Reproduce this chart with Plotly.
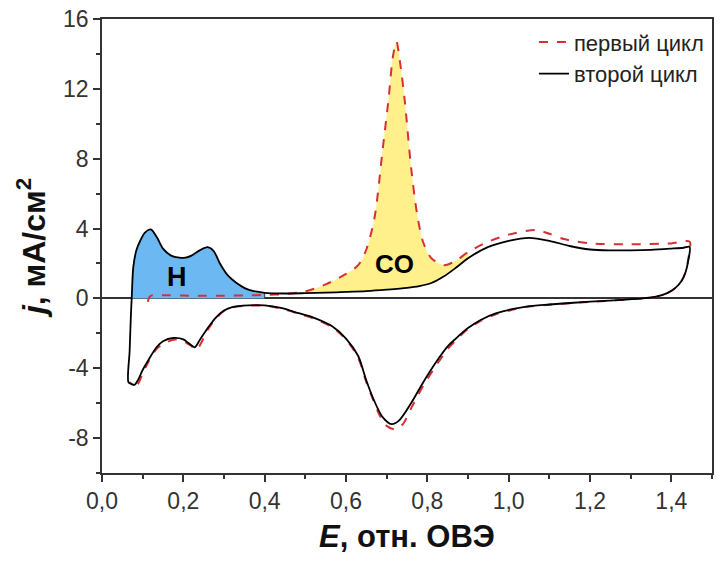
import plotly.graph_objects as go

# Cyclic voltammogram: potential E (V vs RHE) and current density j (mA/cm2)

# Second cycle, anodic sweep
c2_an_x = [0.065, 0.068, 0.071, 0.073, 0.077, 0.085, 0.094, 0.105, 0.12, 0.135,
           0.15, 0.17, 0.19, 0.205, 0.22, 0.24, 0.26, 0.275, 0.29, 0.31,
           0.33, 0.36, 0.40, 0.45, 0.50, 0.55, 0.60, 0.65, 0.70, 0.75,
           0.78, 0.81, 0.84, 0.87, 0.90, 0.95, 1.00, 1.05, 1.10, 1.15,
           1.20, 1.25, 1.30, 1.35, 1.40, 1.43, 1.445]
c2_an_y = [-4.8, -3.0, -1.0, 0.0, 1.8, 2.8, 3.3, 3.75, 3.95, 3.5,
           2.85, 2.45, 2.33, 2.33, 2.45, 2.75, 2.93, 2.7, 2.0, 1.3,
           0.9, 0.5, 0.32, 0.28, 0.30, 0.33, 0.37, 0.42, 0.50, 0.60,
           0.70, 0.88, 1.25, 1.75, 2.3, 2.95, 3.3, 3.47, 3.3, 3.0,
           2.8, 2.75, 2.75, 2.78, 2.85, 2.9, 2.95]

# Second cycle, cathodic sweep
c2_ca_x = [1.445, 1.442, 1.435, 1.425, 1.41, 1.39, 1.36, 1.33, 1.28, 1.20,
           1.10, 1.04, 0.97, 0.93, 0.90, 0.87, 0.85, 0.82, 0.79, 0.76,
           0.73, 0.712, 0.69, 0.67, 0.65, 0.63, 0.60, 0.566, 0.52, 0.484,
           0.44, 0.40, 0.36, 0.32, 0.30, 0.28, 0.26, 0.24, 0.228, 0.215,
           0.20, 0.175, 0.15, 0.134, 0.115, 0.10, 0.088, 0.08, 0.072, 0.065]
c2_ca_y = [2.95, 2.2, 1.5, 1.0, 0.6, 0.3, 0.08, 0.0, -0.08, -0.19,
           -0.35, -0.48, -0.85, -1.25, -1.7, -2.3, -2.75, -3.7, -4.8, -6.0,
           -7.0, -7.2, -6.8, -5.9, -4.7, -3.3, -2.3, -1.6, -1.1, -0.85,
           -0.55, -0.4, -0.4, -0.5, -0.7, -1.1, -1.7, -2.4, -2.8, -2.6,
           -2.35, -2.27, -2.45, -2.8, -3.5, -4.1, -4.7, -4.95, -4.9, -4.8]

# First cycle, anodic sweep (CO stripping)
c1_an_x = [0.113, 0.115, 0.12, 0.15, 0.20, 0.25, 0.30, 0.35, 0.40, 0.45,
           0.50, 0.55, 0.60, 0.63, 0.65, 0.67, 0.69, 0.705, 0.715, 0.724,
           0.733, 0.745, 0.76, 0.775, 0.79, 0.81, 0.842, 0.87, 0.90, 0.95,
           1.00, 1.066, 1.10, 1.136, 1.20, 1.30, 1.40, 1.445]
c1_an_y = [-0.2, 0.0, 0.15, 0.18, 0.16, 0.15, 0.15, 0.17, 0.20, 0.25,
           0.40, 0.80, 1.4, 1.9, 2.8, 4.6, 8.5, 11.5, 13.8, 14.7,
           13.5, 11.2, 7.5, 4.8, 3.2, 2.3, 1.9, 2.15, 2.65, 3.25,
           3.65, 3.92, 3.7, 3.4, 3.15, 3.1, 3.15, 3.25]

# First cycle, cathodic sweep
c1_ca_x = [1.445, 1.442, 1.435, 1.425, 1.41, 1.39, 1.36, 1.33, 1.28, 1.20,
           1.10, 1.04, 0.97, 0.93, 0.90, 0.87, 0.85, 0.82, 0.79, 0.76,
           0.74, 0.72, 0.70, 0.685, 0.67, 0.65, 0.63, 0.60, 0.566, 0.52,
           0.484, 0.44, 0.40, 0.36, 0.32, 0.30, 0.28, 0.26, 0.245, 0.232,
           0.218, 0.20, 0.18, 0.155, 0.134, 0.115, 0.10, 0.09, 0.083, 0.075,
           0.068]
c1_ca_y = [3.25, 2.3, 1.5, 1.0, 0.6, 0.3, 0.08, 0.0, -0.08, -0.2,
           -0.36, -0.5, -0.9, -1.3, -1.75, -2.4, -2.9, -3.9, -5.0, -6.3,
           -7.2, -7.5, -7.3, -6.8, -6.0, -4.8, -3.4, -2.35, -1.65, -1.15,
           -0.88, -0.58, -0.42, -0.42, -0.52, -0.72, -1.15, -1.8, -2.5, -2.95,
           -2.7, -2.45, -2.35, -2.55, -2.9, -3.6, -4.3, -4.85, -5.1, -4.95,
           -4.8]

legend_names = ["первый цикл", "второй цикл"]
region_labels = ["H", "CO"]
y_tick_vals = [-8, -4, 0, 4, 8, 12, 16]
y_tick_text = ["-8", "-4", "0", "4", "8", "12", "16"]

FONT = "Liberation Sans, Arial, sans-serif"
BLUE = "rgb(108,184,242)"
YELLOW = "rgb(255,240,140)"
RED = "rgb(214,48,52)"


def window(xs, ys, lo, hi):
    pts = [(x, y) for x, y in zip(xs, ys) if lo <= x <= hi]
    return [p[0] for p in pts], [p[1] for p in pts]


fig = go.Figure()

# Hydrogen desorption area (second cycle, above zero)
hx, hy = window(c2_an_x, c2_an_y, 0.073, 0.40)
fig.add_trace(go.Scatter(x=hx, y=hy, mode="lines", fill="tozeroy",
                         fillcolor=BLUE, line=dict(width=0, shape="spline"),
                         showlegend=False, hoverinfo="skip"))

# CO oxidation area between first and second cycle
lx, ly = window(c2_an_x, c2_an_y, 0.45, 0.90)
ux, uy = window(c1_an_x, c1_an_y, 0.45, 0.90)
fig.add_trace(go.Scatter(x=lx, y=ly, mode="lines",
                         line=dict(width=0, shape="spline"),
                         showlegend=False, hoverinfo="skip"))
fig.add_trace(go.Scatter(x=ux, y=uy, mode="lines", fill="tonexty",
                         fillcolor=YELLOW, line=dict(width=0, shape="spline"),
                         showlegend=False, hoverinfo="skip"))

# boundary of the H area at 0.4 V
fig.add_trace(go.Scatter(x=[0.40, 0.40], y=[0.0, hy[-1]], mode="lines",
                         line=dict(color="#333333", width=1),
                         showlegend=False, hoverinfo="skip"))

# First cycle (dashed red)
fig.add_trace(go.Scatter(x=c1_an_x + c1_ca_x[1:], y=c1_an_y + c1_ca_y[1:],
                         mode="lines", name=legend_names[0],
                         line=dict(color=RED, width=2, dash="dash",
                                   shape="spline", smoothing=0.8)))

# Second cycle (solid black)
fig.add_trace(go.Scatter(x=c2_an_x + c2_ca_x[1:], y=c2_an_y + c2_ca_y[1:],
                         mode="lines", name=legend_names[1],
                         line=dict(color="black", width=1.8,
                                   shape="spline", smoothing=0.8)))

fig.add_annotation(x=0.185, y=1.2, text="<b>" + region_labels[0] + "</b>",
                   showarrow=False, font=dict(family=FONT, size=27, color="black"))
fig.add_annotation(x=0.72, y=1.95, text="<b>" + region_labels[1] + "</b>",
                   showarrow=False, font=dict(family=FONT, size=26, color="black"))

axis_common = dict(
    showline=True, linecolor="#333333", linewidth=1.5, mirror=True,
    ticks="outside", ticklen=7, tickwidth=1.5, tickcolor="#333333",
    showgrid=False,
    tickfont=dict(family=FONT, size=23, color="#333333"),
)

fig.update_xaxes(
    range=[0, 1.5], tick0=0, dtick=0.2, tickformat=".1f",
    minor=dict(ticks="outside", ticklen=4, tickwidth=1.5, tickcolor="#333333",
               dtick=0.1, showgrid=False),
    zeroline=False,
    title=dict(text="<b><i>E</i>, отн. ОВЭ</b>", standoff=12,
               font=dict(family=FONT, size=31, color="#111111")),
    **axis_common,
)
fig.update_yaxes(
    range=[-10, 16], tickmode="array", tickvals=y_tick_vals, ticktext=y_tick_text,
    minor=dict(ticks="outside", ticklen=4, tickwidth=1.5, tickcolor="#333333",
               tick0=0, dtick=2, showgrid=False),
    zeroline=True, zerolinecolor="#333333", zerolinewidth=1.5,
    title=dict(text="<b><i>j</i>, мА/см<sup>2</sup></b>", standoff=8,
               font=dict(family=FONT, size=32, color="#111111")),
    **axis_common,
)

fig.update_layout(
    width=720, height=565,
    margin=dict(l=102, r=6, t=17, b=92),
    plot_bgcolor="white", paper_bgcolor="white",
    separators=", ",
    font=dict(family=FONT, color="#222222"),
    legend=dict(x=0.995, y=0.995, xanchor="right", yanchor="top",
                traceorder="normal",
                bgcolor="rgba(0,0,0,0)", borderwidth=0,
                font=dict(family=FONT, size=22, color="#222222"),
                tracegroupgap=0),
)

fig.write_html("out.html")
